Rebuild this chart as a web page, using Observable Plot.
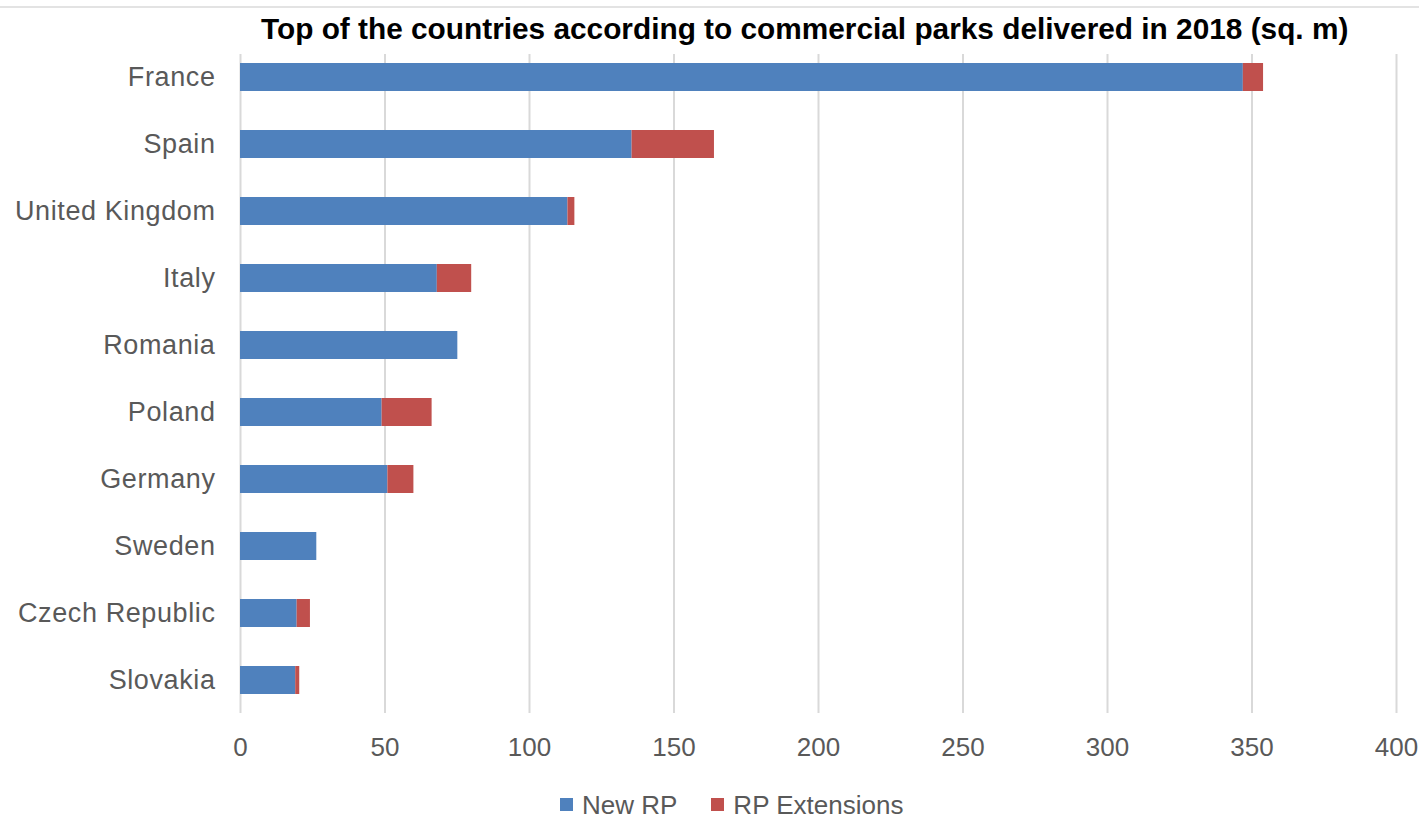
<!DOCTYPE html>
<html>
<head>
<meta charset="utf-8">
<script src="https://cdn.jsdelivr.net/npm/d3@7"></script>
<script src="https://cdn.jsdelivr.net/npm/@observablehq/plot@0.6"></script>
<style>
  html, body { margin: 0; padding: 0; background: #fff; width: 1419px; height: 819px; overflow: hidden; }
  body { font-family: "Liberation Sans", Arial, sans-serif; position: relative; }
  #topline { position: absolute; left: 0; top: 6px; width: 1419px; height: 2px; background: #e3e3e3; }
  #title { height: 28px; padding-top: 15px; line-height: 28px; padding-left: 261px; white-space: nowrap;
           font-weight: bold; font-size: 29.8px; color: #000; }
  #chart { width: 1419px; height: 738px; }
  #chart svg { max-width: none !important; width: 1419px; height: 738px; }
  #legend { height: 38px; padding-top: 9px; box-sizing: border-box; line-height: 26px; font-size: 26px; color: #595959;
            display: flex; align-items: center; padding-left: 560px; white-space: nowrap; }
  .sw { display: inline-block; width: 13px; height: 13px; margin-right: 9px; }
  #chart svg g[aria-label="y-axis tick label"] text { letter-spacing: 0.6px; font-size: 27px; }
</style>
</head>
<body>
<div id="topline"></div>
<div id="title">Top of the countries according to commercial parks delivered in 2018 (sq. m)</div>
<div id="chart"></div>
<div id="legend"></div>
<script>
const countries = ["France", "Spain", "United Kingdom", "Italy", "Romania", "Poland", "Germany", "Sweden", "Czech Republic", "Slovakia"];
const newRP = [347, 135.5, 113.3, 68.1, 75.2, 49, 51, 26.4, 19.6, 19.1];
const rpExtensions = [7, 28.5, 2.4, 11.9, 0, 17.3, 9, 0, 4.6, 1.4];
const seriesNames = ["New RP", "RP Extensions"];
const seriesColors = ["#4F81BD", "#C0504D"];
const xTicks = [0, 50, 100, 150, 200, 250, 300, 350, 400];

const rows = [];
countries.forEach((c, i) => {
  rows.push({country: c, type: seriesNames[0], value: newRP[i]});
  rows.push({country: c, type: seriesNames[1], value: rpExtensions[i]});
});

const H = 738;
const chart = Plot.plot({
  width: 1419,
  height: H,
  marginLeft: 240,
  marginRight: 23,
  marginTop: 11,
  marginBottom: 68,
  style: {fontFamily: "'Liberation Sans', Arial, sans-serif", fontSize: "26px", color: "#595959", background: "#fff"},
  x: {domain: [0, 400]},
  y: {domain: countries, range: [0.5, 670.5], paddingInner: 0.58, paddingOuter: 0.29},
  color: {domain: seriesNames, range: seriesColors},
  marks: [
    Plot.gridX(xTicks, {stroke: "#d9d9d9", strokeOpacity: 1, strokeWidth: 2}),
    Plot.barX(rows, {x: "value", y: "country", fill: "type", order: seriesNames, inset: 0}),
    Plot.axisX({ticks: xTicks, tickSize: 0, tickPadding: 24, label: null, tickFormat: d => String(d)}),
    Plot.axisY({tickSize: 0, tickPadding: 25, label: null})
  ]
});
document.getElementById("chart").appendChild(chart);

const legend = document.getElementById("legend");
seriesNames.forEach((name, i) => {
  const item = document.createElement("span");
  item.style.display = "inline-flex";
  item.style.alignItems = "center";
  item.style.marginRight = i === 0 ? "34px" : "0";
  const sw = document.createElement("span");
  sw.className = "sw";
  sw.style.background = seriesColors[i];
  item.appendChild(sw);
  item.appendChild(document.createTextNode(name));
  legend.appendChild(item);
});
</script>
</body>
</html>
